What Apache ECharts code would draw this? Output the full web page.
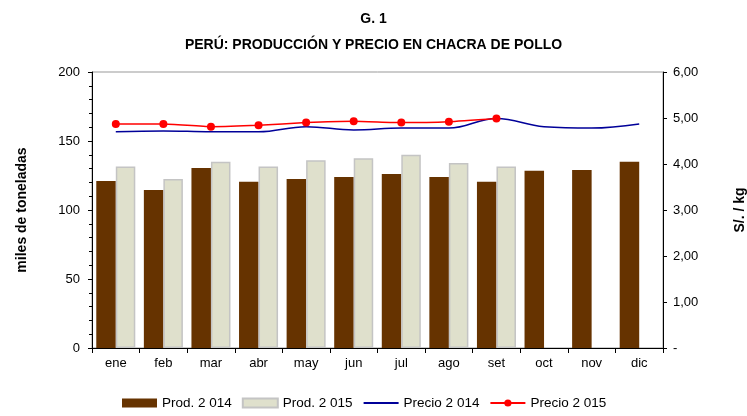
<!DOCTYPE html>
<html>
<head>
<meta charset="utf-8">
<script src="https://cdn.jsdelivr.net/npm/echarts@6/dist/echarts.min.js"></script>
<style>
  html, body { margin: 0; padding: 0; background: #fff; }
  #chart { width: 747px; height: 416px; }
</style>
</head>
<body>
<div id="chart"></div>
<script>
// categorías (meses)
var meses = ['ene', 'feb', 'mar', 'abr', 'may', 'jun', 'jul', 'ago', 'set', 'oct', 'nov', 'dic'];
// producción, miles de toneladas
var prod2014 = [121, 114.5, 130.5, 120.5, 122.5, 124, 126, 124, 120.5, 128.5, 129, 135];
var prod2015 = [131.5, 122.5, 135, 131.5, 136, 137.5, 140, 134, 131.5];
// precio en chacra, S/. / kg
var precio2014 = [4.70, 4.72, 4.70, 4.70, 4.81, 4.74, 4.78, 4.78, 4.99, 4.81, 4.78, 4.87];
var precio2015 = [4.87, 4.87, 4.81, 4.84, 4.90, 4.93, 4.90, 4.92, 4.99];

var font = 'Liberation Sans, Arial, sans-serif';
var myChart = echarts.init(document.getElementById('chart'));

var option = {
  animation: false,
  textStyle: { fontFamily: font },
  title: {
    text: 'G. 1\nPERÚ: PRODUCCIÓN Y PRECIO EN CHACRA DE POLLO',
    left: 'center',
    top: 1,
    textStyle: {
      fontFamily: font,
      fontSize: 14,
      fontWeight: 'bold',
      color: '#000',
      lineHeight: 26,
      align: 'center'
    }
  },
  legend: {
    bottom: 1,
    left: 117,
    itemWidth: 35,
    itemHeight: 9,
    itemGap: 10,
    textStyle: { fontFamily: font, fontSize: 13.5, color: '#000' },
    data: [
      { name: 'Prod. 2 014', icon: 'rect' },
      { name: 'Prod. 2 015', icon: 'rect' },
      { name: 'Precio 2 014', itemStyle: { color: 'rgba(0,0,0,0)', borderWidth: 0 } },
      { name: 'Precio 2 015' }
    ]
  },
  grid: {
    left: 92,
    right: 84,
    top: 72,
    bottom: 68,
    outerBoundsMode: 'none',
    show: true,
    borderColor: '#999',
    borderWidth: 1
  },
  xAxis: {
    type: 'category',
    data: meses,
    boundaryGap: true,
    axisLine: { lineStyle: { color: '#000', width: 1 } },
    axisTick: { show: true, length: 5, lineStyle: { color: '#000' } },
    axisLabel: { color: '#000', fontSize: 13, margin: 9 }
  },
  yAxis: [
    {
      type: 'value',
      min: 0,
      max: 200,
      interval: 50,
      name: 'miles de toneladas',
      nameLocation: 'middle',
      nameRotate: 90,
      nameGap: 63,
      nameTextStyle: { fontFamily: font, fontSize: 14, fontWeight: 'bold', color: '#000' },
      axisLine: { show: true, lineStyle: { color: '#000' } },
      axisTick: { show: true, length: 4, lineStyle: { color: '#000' } },
      minorTick: { show: true, splitNumber: 5, length: 3, lineStyle: { color: '#000' } },
      splitLine: { show: false },
      axisLabel: { color: '#000', fontSize: 13, margin: 12 }
    },
    {
      type: 'value',
      min: 0,
      max: 6,
      interval: 1,
      position: 'right',
      name: 'S/. / kg',
      nameLocation: 'middle',
      nameRotate: 90,
      nameGap: 70,
      nameTextStyle: { fontFamily: font, fontSize: 14, fontWeight: 'bold', color: '#000' },
      axisLine: { show: true, lineStyle: { color: '#000' } },
      axisTick: { show: true, length: 4, lineStyle: { color: '#000' } },
      splitLine: { show: false },
      axisLabel: {
        color: '#000',
        fontSize: 13,
        margin: 10,
        formatter: function (v) {
          return v === 0 ? '-' : v.toFixed(2).replace('.', ',');
        }
      }
    }
  ],
  series: [
    {
      name: 'Prod. 2 014',
      type: 'bar',
      data: prod2014,
      barGap: '0%',
      barCategoryGap: '18%',
      itemStyle: { color: '#663300' }
    },
    {
      name: 'Prod. 2 015',
      type: 'bar',
      data: prod2015,
      itemStyle: { color: '#dfe0cc', borderColor: '#c4c4c4', borderWidth: 1.5 }
    },
    {
      name: 'Precio 2 014',
      type: 'line',
      yAxisIndex: 1,
      data: precio2014,
      smooth: 0.4,
      showSymbol: false,
      symbol: 'circle',
      lineStyle: { color: '#000099', width: 1.5 },
      itemStyle: { color: '#000099' }
    },
    {
      name: 'Precio 2 015',
      type: 'line',
      yAxisIndex: 1,
      data: precio2015,
      smooth: 0.15,
      symbol: 'circle',
      symbolSize: 8,
      lineStyle: { color: '#ff0000', width: 1.5 },
      itemStyle: { color: '#ff0000' }
    }
  ]
};

myChart.setOption(option);
</script>
</body>
</html>
